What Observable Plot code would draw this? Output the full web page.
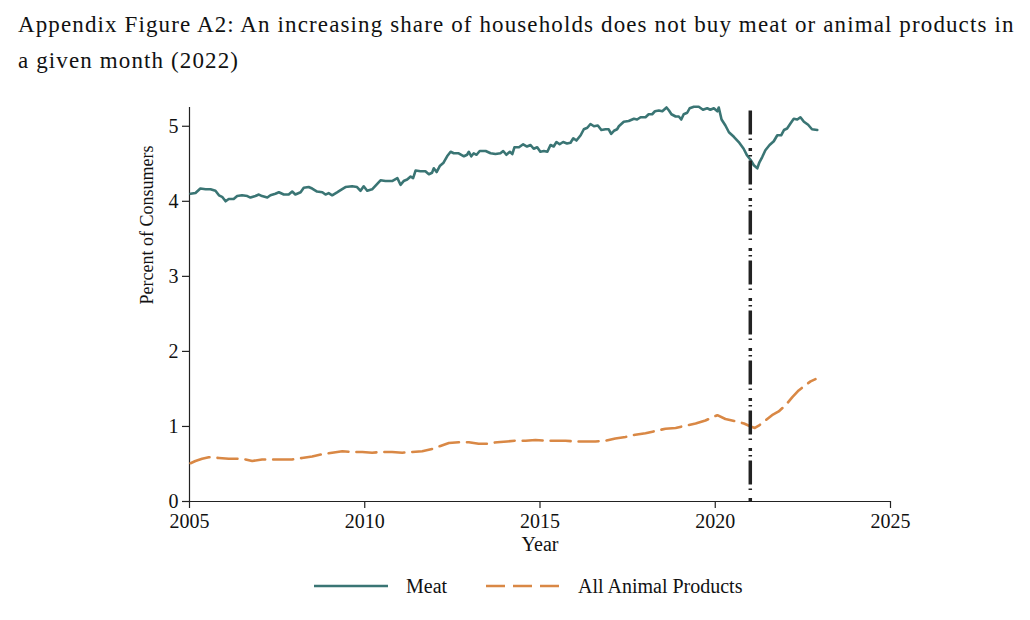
<!DOCTYPE html>
<html>
<head>
<meta charset="utf-8">
<script src="https://cdn.jsdelivr.net/npm/d3@7"></script>
<script src="https://cdn.jsdelivr.net/npm/@observablehq/plot@0.6"></script>
<style>
  body { margin: 0; background: #fff; width: 1030px; height: 620px; position: relative; overflow: hidden; }
  #title { position: absolute; left: 18px; top: 7px; width: 1010px; white-space: nowrap; font-family: "Liberation Serif", serif; font-size: 23px; letter-spacing: 1.12px; line-height: 36px; color: #111; }
  #chart { position: absolute; left: 0; top: 90px; }
  #legend { position: absolute; top: 572px; left: 0; width: 1030px; font-family: "Liberation Serif", serif; font-size: 20px; color: #111; }
  .item { position: absolute; top: 0; display: flex; align-items: center; height: 28px; }
</style>
</head>
<body>
<div id="title">Appendix Figure A2: An increasing share of households does not buy meat or animal products in<br>a given month (2022)</div>
<div id="chart"></div>
<div id="legend"></div>
<script>
const meatYear = [2005.03,2005.17,2005.31,2005.46,2005.60,2005.74,2005.84,2005.93,2006.03,2006.12,2006.26,2006.36,2006.50,2006.65,2006.74,2006.88,2006.98,2007.07,2007.22,2007.31,2007.45,2007.55,2007.69,2007.83,2007.93,2008.02,2008.17,2008.26,2008.40,2008.50,2008.64,2008.79,2008.88,2008.97,2009.07,2009.21,2009.31,2009.45,2009.64,2009.78,2009.88,2009.97,2010.07,2010.21,2010.31,2010.45,2010.59,2010.78,2010.93,2011.02,2011.11,2011.21,2011.31,2011.38,2011.45,2011.59,2011.73,2011.83,2011.92,2011.97,2012.05,2012.14,2012.24,2012.35,2012.45,2012.54,2012.68,2012.83,2012.92,2012.97,2013.04,2013.11,2013.19,2013.28,2013.45,2013.59,2013.73,2013.87,2013.95,2014.04,2014.14,2014.21,2014.27,2014.40,2014.52,2014.63,2014.73,2014.82,2014.92,2015.01,2015.11,2015.21,2015.30,2015.39,2015.47,2015.56,2015.66,2015.77,2015.87,2015.95,2016.04,2016.16,2016.25,2016.35,2016.44,2016.54,2016.65,2016.75,2016.87,2016.96,2017.03,2017.11,2017.20,2017.25,2017.39,2017.53,2017.68,2017.77,2017.87,2018.01,2018.10,2018.20,2018.28,2018.39,2018.49,2018.61,2018.68,2018.75,2018.87,2018.96,2019.03,2019.10,2019.20,2019.27,2019.39,2019.53,2019.65,2019.77,2019.86,2019.96,2020.06,2020.10,2020.18,2020.29,2020.39,2020.53,2020.67,2020.81,2020.91,2021.01,2021.10,2021.20,2021.26,2021.34,2021.43,2021.55,2021.67,2021.77,2021.88,2021.96,2022.05,2022.15,2022.24,2022.34,2022.43,2022.53,2022.65,2022.76,2022.91];
const meatValue = [4.10,4.11,4.17,4.16,4.16,4.14,4.08,4.06,4.00,4.03,4.03,4.07,4.08,4.07,4.05,4.07,4.09,4.07,4.05,4.08,4.10,4.12,4.09,4.09,4.13,4.09,4.12,4.18,4.19,4.17,4.13,4.12,4.09,4.11,4.08,4.12,4.15,4.19,4.20,4.19,4.14,4.20,4.14,4.16,4.21,4.28,4.27,4.27,4.31,4.22,4.27,4.29,4.33,4.31,4.41,4.40,4.40,4.36,4.38,4.44,4.39,4.47,4.51,4.60,4.66,4.64,4.64,4.60,4.62,4.66,4.60,4.64,4.62,4.67,4.67,4.64,4.63,4.64,4.67,4.62,4.66,4.63,4.72,4.72,4.76,4.73,4.75,4.70,4.72,4.66,4.67,4.66,4.75,4.73,4.79,4.76,4.79,4.77,4.78,4.84,4.81,4.88,4.96,4.98,5.03,5.00,5.01,4.95,4.96,4.96,4.90,4.94,4.96,5.00,5.06,5.07,5.10,5.09,5.12,5.12,5.16,5.16,5.20,5.21,5.20,5.25,5.21,5.16,5.13,5.13,5.09,5.16,5.18,5.24,5.26,5.26,5.22,5.24,5.22,5.24,5.20,5.25,5.09,5.01,4.92,4.86,4.79,4.70,4.61,4.55,4.48,4.44,4.52,4.59,4.68,4.75,4.80,4.88,4.88,4.95,4.97,5.04,5.10,5.09,5.12,5.06,5.02,4.96,4.95];

const animalYear = [2005.03,2005.17,2005.36,2005.55,2005.84,2006.12,2006.36,2006.60,2006.79,2007.07,2007.36,2007.64,2007.93,2008.21,2008.50,2008.79,2009.07,2009.36,2009.64,2009.93,2010.21,2010.50,2010.78,2011.07,2011.35,2011.64,2011.92,2012.16,2012.40,2012.68,2012.97,2013.25,2013.49,2013.78,2014.06,2014.30,2014.59,2014.87,2015.16,2015.44,2015.73,2016.01,2016.30,2016.58,2016.87,2017.15,2017.44,2017.72,2018.01,2018.30,2018.58,2018.87,2019.15,2019.44,2019.72,2019.91,2020.06,2020.29,2020.58,2020.82,2021.01,2021.13,2021.24,2021.43,2021.62,2021.81,2022.00,2022.20,2022.38,2022.57,2022.72,2022.86];
const animalValue = [0.51,0.54,0.57,0.59,0.58,0.57,0.57,0.56,0.54,0.56,0.56,0.56,0.56,0.58,0.60,0.63,0.65,0.67,0.66,0.66,0.65,0.66,0.66,0.65,0.66,0.67,0.70,0.74,0.78,0.79,0.79,0.77,0.77,0.79,0.80,0.81,0.81,0.82,0.81,0.81,0.81,0.80,0.80,0.80,0.81,0.84,0.86,0.89,0.91,0.94,0.97,0.98,1.01,1.04,1.08,1.12,1.15,1.10,1.07,1.04,1.00,0.98,1.01,1.08,1.15,1.20,1.28,1.39,1.48,1.55,1.60,1.63];

const xTicks = [2005, 2010, 2015, 2020, 2025];
const yTicks = [0, 1, 2, 3, 4, 5];
const eventYear = [2021];
const seriesNames = ["Meat", "All Animal Products"];
const seriesColors = ["#3a7574", "#d98845"];

const meat = meatYear.map((x, i) => ({x, y: meatValue[i]}));
const animal = animalYear.map((x, i) => ({x, y: animalValue[i]}));

const chart = Plot.plot({
  width: 1030,
  height: 471,
  marginLeft: 189,
  marginRight: 140,
  marginTop: 17,
  marginBottom: 60,
  style: {fontFamily: "Liberation Serif, serif", fontSize: "20px", color: "#111", background: "transparent"},
  x: {domain: [2005, 2025], ticks: xTicks, tickFormat: d => String(d), label: null},
  y: {domain: [0, 5.25], ticks: yTicks, tickFormat: d => String(d), label: null},
  marks: [
    Plot.axisX({ticks: xTicks, tickFormat: d => String(d), tickSize: 7, tickPadding: 5, fontSize: 20, stroke: "#222", strokeWidth: 1.2, label: null}),
    Plot.axisY({ticks: yTicks, tickFormat: d => String(d), tickSize: 7, tickPadding: 4, fontSize: 20, stroke: "#222", strokeWidth: 1.2, label: null}),
    Plot.ruleY([0], {stroke: "#222", strokeWidth: 1.2}),
    Plot.ruleX([2005], {y1: 0, y2: 5.25, stroke: "#222", strokeWidth: 1.2}),
    Plot.line(meat, {x: "x", y: "y", stroke: seriesColors[0], strokeWidth: 2.6, curve: "linear"}),
    Plot.line(animal, {x: "x", y: "y", stroke: seriesColors[1], strokeWidth: 2.6, strokeDasharray: "20,8", curve: "linear"}),
    Plot.ruleX(eventYear, {y1: 0, y2: 5.25, stroke: "#222", strokeWidth: 3.5, strokeDasharray: "3,8,1.5,4,24,4,1.5,4", strokeLinecap: "butt"}),
    Plot.text(["Year"], {frameAnchor: "bottom", lineAnchor: "middle", dy: 43, fontSize: 20}),
    Plot.text(["Percent of Consumers"], {frameAnchor: "left", dx: -42, rotate: -90, fontSize: 18})
  ]
});
document.getElementById("chart").appendChild(chart);

// legend
const legend = document.getElementById("legend");
const items = [
  {left: 314, name: seriesNames[0], color: seriesColors[0], dash: null},
  {left: 486, name: seriesNames[1], color: seriesColors[1], dash: "19,8"}
];
for (const it of items) {
  const div = document.createElement("div");
  div.className = "item";
  div.style.left = it.left + "px";
  div.innerHTML = `<svg width="75" height="28"><line x1="0" x2="74" y1="14" y2="14" stroke="${it.color}" stroke-width="2.6" ${it.dash ? `stroke-dasharray="${it.dash}"` : ""}/></svg><span style="margin-left:17px">${it.name}</span>`;
  legend.appendChild(div);
}
</script>
</body>
</html>
